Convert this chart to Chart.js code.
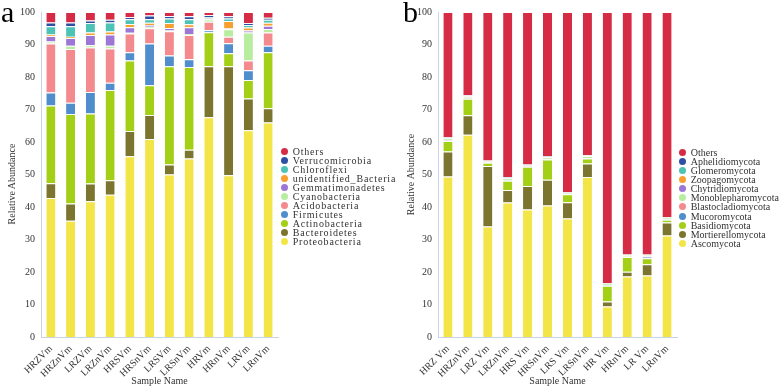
<!DOCTYPE html>
<html><head><meta charset="utf-8">
<script src="https://cdn.jsdelivr.net/npm/chart.js@4/dist/chart.umd.min.js"></script>
<style>
html,body{margin:0;padding:0;background:#fff;}
body{width:779px;height:388px;position:relative;overflow:hidden;font-family:"Liberation Serif","Times New Roman",serif;}
canvas{position:absolute;top:0;}
#ca{left:0;}
#cb{left:389px;}
.panel{position:absolute;font-size:30px;line-height:30px;color:#000;}
.lg{position:absolute;height:9px;line-height:9px;white-space:nowrap;color:#333;}
.dot{position:absolute;width:7px;height:7px;border-radius:50%;}
#ytA{position:absolute;left:12px;top:183.5px;width:0;height:0;}
#ytA span{position:absolute;left:0;top:0;transform:translate(-50%,-50%) rotate(-90deg);white-space:nowrap;font-size:10px;line-height:12px;color:#333;}
</style>
</head><body>
<canvas id="ca" width="389" height="388"></canvas>
<canvas id="cb" width="390" height="388"></canvas>
<div class="panel" style="left:1px;top:-3px;">a</div>
<div class="panel" style="left:403px;top:-3px;">b</div>
<div id="ytA"><span>Relative Abundance</span></div>
<div id="legA"></div>
<div id="legB"></div>
<script>
// ---------- Panel a: bacteria ----------
const samplesA = ["HRZVm","HRZnVm","LRZVm","LRZnVm","HRSVm","HRSnVm","LRSVm","LRSnVm","HRVm","HRnVm","LRVm","LRnVm"];
const proteobacteria   = [42.8,35.8,41.8,43.8,55.6,60.9,50.0,54.9,67.6,49.8,63.6,66.0];
const bacteroidetes    = [4.5,5.3,5.4,4.4,7.8,7.4,3.1,2.7,15.7,33.5,9.8,4.4];
const actinobacteria   = [23.9,27.5,21.6,27.8,21.7,9.2,30.2,25.5,10.5,4.0,5.7,17.2];
const firmicutes       = [4.0,3.5,6.6,2.2,2.5,12.8,3.3,2.4,0.6,3.1,3.0,2.0];
const acidobacteria    = [15.1,16.5,13.7,10.6,5.8,4.7,7.5,7.4,2.6,2.0,3.0,4.1];
const cyanobacteria    = [0.6,1.0,0.7,0.8,0.2,0.5,0.2,0.3,0.7,2.3,8.6,1.1];
const gemmatimonadetes = [1.7,2.4,3.1,3.5,1.7,0.5,0.8,2.1,0.1,0.2,0.6,1.0];
const unidentifiedBac  = [0.5,0.4,0.8,0.9,1.0,0.7,1.5,0.9,0.2,2.3,0.9,0.9];
const chloroflexi      = [2.5,3.2,2.9,2.8,1.5,1.1,1.4,1.6,0.5,0.8,0.8,0.9];
const verrucomicrobia  = [1.2,1.2,0.8,0.8,0.7,1.1,0.8,0.9,0.5,0.7,0.6,0.6];
const othersA          = [3.2,3.2,2.6,2.4,1.5,1.1,1.2,1.3,1.0,1.3,3.4,1.8];
const namesA = ["Proteobacteria","Bacteroidetes","Actinobacteria","Firmicutes","Acidobacteria","Cyanobacteria","Gemmatimonadetes","unidentified_Bacteria","Chloroflexi","Verrucomicrobia","Others"];
const valuesA = [proteobacteria,bacteroidetes,actinobacteria,firmicutes,acidobacteria,cyanobacteria,gemmatimonadetes,unidentifiedBac,chloroflexi,verrucomicrobia,othersA];

// ---------- Panel b: fungi ----------
const samplesB = ["HRZ Vm","HRZnVm","LRZ Vm","LRZnVm","HRS Vm","HRSnVm","LRS Vm","LRSnVm","HR Vm","HRnVm","LR Vm","LRnVm"];
const ascomycota        = [49.4,62.2,34.0,41.4,39.2,40.5,36.5,49.2,9.4,18.6,18.9,31.2];
const mortierellomycota = [7.7,6.0,18.6,3.8,7.3,7.9,5.0,4.2,1.5,1.5,3.5,4.0];
const basidiomycota     = [3.2,5.1,1.0,2.9,5.9,6.2,2.4,1.5,4.9,4.5,1.8,0.9];
const mucoromycota      = [0.2,0.2,0.1,0.1,0.1,0.1,0.1,0.1,0.1,0.1,0.6,0.1];
const blastocladiomycota= [0.1,0.1,0.1,0.1,0.1,0.1,0.1,0.1,0.1,0.1,0.1,0.1];
const monoblepharomycota= [0.5,0.4,0.2,0.5,0.2,0.4,0.3,0.5,0.4,0.4,0.2,0.4];
const chytridiomycota   = [0.1,0.1,0.0,0.1,0.1,0.1,0.1,0.1,0.0,0.0,0.0,0.0];
const zoopagomycota     = [0.1,0.1,0.1,0.1,0.1,0.1,0.0,0.1,0.1,0.1,0.1,0.1];
const glomeromycota     = [0.1,0.1,0.1,0.1,0.1,0.1,0.1,0.1,0.1,0.1,0.1,0.1];
const aphelidiomycota   = [0.1,0.1,0.1,0.1,0.0,0.1,0.0,0.1,0.0,0.0,0.1,0.0];
const othersB           = [38.5,25.6,45.7,50.8,46.9,44.4,55.4,44.0,83.4,74.6,74.6,63.1];
const namesB = ["Ascomycota","Mortierellomycota","Basidiomycota","Mucoromycota","Blastocladiomycota","Monoblepharomycota","Chytridiomycota","Zoopagomycota","Glomeromycota","Aphelidiomycota","Others"];
const valuesB = [ascomycota,mortierellomycota,basidiomycota,mucoromycota,blastocladiomycota,monoblepharomycota,chytridiomycota,zoopagomycota,glomeromycota,aphelidiomycota,othersB];

const yTicks = [0,10,20,30,40,50,60,70,80,90,100];
// colours, bottom series first
const palette = ["#F3E548","#7C7530","#A3D016","#4F8DCD","#F58A8E","#B8EDA0","#9D77D6","#F7A030","#4DC3B5","#2E4FA3","#D52B45"];

const FONT = "'Liberation Serif','Times New Roman',serif";
const TXT = "#333333";
const AXIS = "#c9d3e6";

function makeChart(id, labels, names, values, geom) {
  return new Chart(document.getElementById(id), {
    type: 'bar',
    data: {
      labels: labels,
      datasets: names.map((n, i) => ({
        label: n, data: values[i], backgroundColor: palette[i],
        borderColor: '#ffffff', borderWidth: {top: 1, right: 0, bottom: 0, left: 0},
        borderSkipped: false, barPercentage: 0.46, categoryPercentage: 1
      }))
    },
    options: {
      responsive: false, animation: false, maintainAspectRatio: false,
      layout: {padding: {left: geom.padL, right: geom.padR, top: 6, bottom: 0}},
      plugins: {legend: {display: false}, tooltip: {enabled: false}},
      scales: {
        x: {
          stacked: true,
          grid: {display: false, drawTicks: false},
          border: {display: true, color: AXIS, width: 1},
          ticks: {font: {family: FONT, size: 10}, color: TXT, maxRotation: 45, minRotation: 45, padding: 6, autoSkip: false},
          title: {display: true, text: 'Sample Name', font: {family: FONT, size: 10}, color: TXT, padding: {top: 0, bottom: 1}},
          afterFit: s => { s.height = 51; }
        },
        y: {
          stacked: true, min: 0, max: 100,
          afterBuildTicks: s => { s.ticks = yTicks.map(v => ({value: v})); },
          grid: {display: false, drawTicks: false},
          border: {display: true, color: AXIS, width: 1},
          ticks: {font: {family: FONT, size: 10}, color: TXT, padding: 6},
          title: {display: geom.yTitle, text: 'Relative Abundance', font: {family: FONT, size: 10}, color: TXT, padding: {top: 6, bottom: 0}},
          afterFit: s => { s.width = geom.yW; }
        }
      }
    }
  });
}

makeChart('ca', samplesA, namesA, valuesA, {padL: 0, padR: 111, yW: 41, yTitle: false});
makeChart('cb', samplesB, namesB, valuesB, {padL: 10, padR: 102, yW: 39, yTitle: true});

function buildLegend(el, names, geom) {
  const order = names.map((n, i) => i).reverse();
  order.forEach((idx, row) => {
    const cy = geom.y0 + geom.step * row;
    const d = document.createElement('div');
    d.className = 'dot';
    d.style.left = (geom.cx - 3.5) + 'px';
    d.style.top = (cy - 3.5) + 'px';
    d.style.background = palette[idx];
    el.appendChild(d);
    const t = document.createElement('div');
    t.className = 'lg';
    t.style.left = geom.tx + 'px';
    t.style.top = (cy - 4.5) + 'px';
    t.style.fontSize = geom.fs + 'px';
    t.style.letterSpacing = geom.ls + 'px';
    t.textContent = names[idx];
    el.appendChild(t);
  });
}
buildLegend(document.getElementById('legA'), namesA, {cx: 284.3, tx: 292.7, y0: 151.7, step: 9.0, fs: 10, ls: 0.8});
buildLegend(document.getElementById('legB'), namesB, {cx: 682.7, tx: 690.7, y0: 152.3, step: 9.1, fs: 10, ls: 0});
</script>
</body></html>
